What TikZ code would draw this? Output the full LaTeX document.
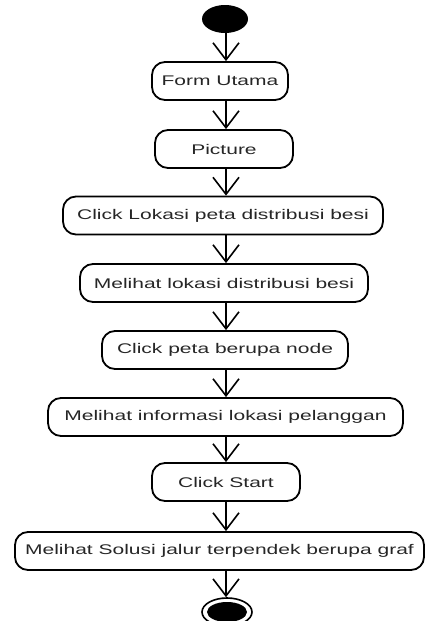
\documentclass[tikz,border=0pt]{standalone}
\usepackage{fontspec}
\setmainfont{Liberation Sans}[FakeStretch=1.5]
\usetikzlibrary{arrows.meta,shapes.geometric}
\begin{document}
\begin{tikzpicture}[x=1pt,y=-1pt,
  activity/.style={draw=black, line width=1.8pt, rounded corners=13pt,
    minimum height=38pt, inner sep=0pt, text=black!85,
    font=\fontsize{14}{16}\selectfont},
  flow/.style={line width=1.6pt, -{Straight Barb[length=17pt,width=26pt,line width=1.6pt]}},
  startnode/.style={ellipse, fill=black, minimum width=46pt, minimum height=28pt, inner sep=0pt},
]
\useasboundingbox (0,0) rectangle (427,621);
\coordinate (axis) at (226,0);

\node[startnode] (start) at (225,19) {};
\node[activity, minimum width=136pt] (a1) at (220,81) {Form Utama};
\node[activity, minimum width=138pt] (a2) at (224,149) {Picture};
\node[activity, minimum width=320pt] (a3) at (223,215.5) {Click Lokasi peta distribusi besi};
\node[activity, minimum width=288pt] (a4) at (224,283) {Melihat lokasi distribusi besi};
\node[activity, minimum width=246pt] (a5) at (225,350) {Click peta berupa node};
\node[activity, minimum width=355pt] (a6) at (225.5,417) {Melihat informasi lokasi pelanggan};
\node[activity, minimum width=148pt] (a7) at (226,482) {Click Start};
\node[activity, minimum width=409pt] (a8) at (219.5,551) {Melihat Solusi jalur terpendek berupa graf};

% final node: bull's eye
\node[ellipse, draw=black, line width=1.6pt, minimum width=50pt, minimum height=28pt, inner sep=0pt] (end) at (227,612) {};
\node[ellipse, fill=black, minimum width=40pt, minimum height=20pt, inner sep=0pt] (endcore) at (end) {};

\draw[flow] (start.south -| axis) -- (a1.north -| axis);
\draw[flow] (a1.south -| axis) -- (a2.north -| axis);
\draw[flow] (a2.south -| axis) -- (a3.north -| axis);
\draw[flow] (a3.south -| axis) -- (a4.north -| axis);
\draw[flow] (a4.south -| axis) -- (a5.north -| axis);
\draw[flow] (a5.south -| axis) -- (a6.north -| axis);
\draw[flow] (a6.south -| axis) -- (a7.north -| axis);
\draw[flow] (a7.south -| axis) -- (a8.north -| axis);
\draw[flow] (a8.south -| axis) -- (end.north -| axis);
\end{tikzpicture}
\end{document}
